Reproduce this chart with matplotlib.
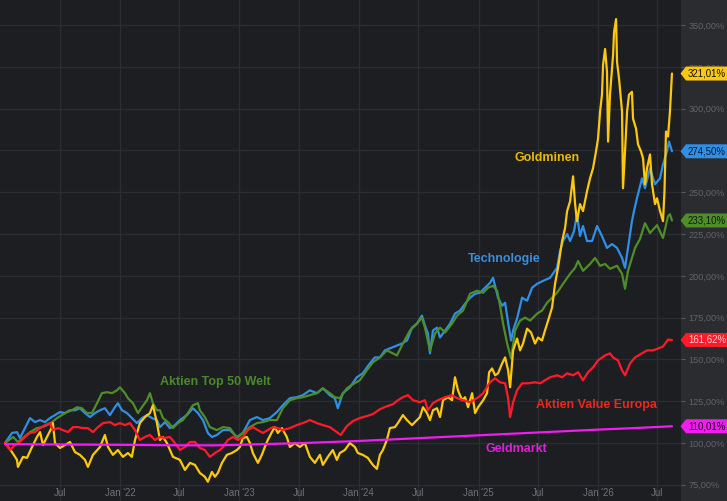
import numpy as np
import matplotlib
matplotlib.use("Agg")
import matplotlib.pyplot as plt
import matplotlib.dates as mdates
import matplotlib.ticker as mticker
from matplotlib.patches import Polygon
from matplotlib.transforms import IdentityTransform
from datetime import datetime

plt.rcParams['font.family'] = ['Liberation Sans', 'DejaVu Sans']

# ---------------- data (time in decimal years, value in % of start) ----------------
gold_t = [2021.038, 2021.096, 2021.138, 2021.146, 2021.188, 2021.222, 2021.264, 2021.305, 2021.331, 2021.356,
          2021.389, 2021.431, 2021.439, 2021.456, 2021.498, 2021.540, 2021.582, 2021.623, 2021.665, 2021.707,
          2021.732, 2021.774, 2021.833, 2021.874, 2021.900, 2021.941, 2021.983, 2022.025, 2022.067, 2022.100,
          2022.126, 2022.167, 2022.209, 2022.251, 2022.276, 2022.310, 2022.335, 2022.360, 2022.393, 2022.444,
          2022.502, 2022.544, 2022.586, 2022.628, 2022.669, 2022.711, 2022.736, 2022.770, 2022.795, 2022.820,
          2022.854, 2022.895, 2022.937, 2022.979, 2023.004, 2023.029, 2023.063, 2023.088, 2023.113, 2023.155,
          2023.188, 2023.213, 2023.238, 2023.272, 2023.297, 2023.322, 2023.356, 2023.397, 2023.423, 2023.464,
          2023.506, 2023.548, 2023.590, 2023.632, 2023.674, 2023.699, 2023.741, 2023.782, 2023.816, 2023.841,
          2023.883, 2023.925, 2023.967, 2023.992, 2024.033, 2024.075, 2024.117, 2024.151, 2024.176, 2024.201,
          2024.234, 2024.259, 2024.301, 2024.326, 2024.368, 2024.402, 2024.444, 2024.485, 2024.510, 2024.536,
          2024.569, 2024.594, 2024.619, 2024.653, 2024.678, 2024.703, 2024.745, 2024.778, 2024.803, 2024.828,
          2024.862, 2024.887, 2024.912, 2024.946, 2024.971, 2024.996, 2025.038, 2025.071, 2025.088, 2025.113,
          2025.138, 2025.163, 2025.197, 2025.222, 2025.247, 2025.264, 2025.289, 2025.322, 2025.347, 2025.372,
          2025.406, 2025.439, 2025.473, 2025.498, 2025.531, 2025.556, 2025.582, 2025.615, 2025.640, 2025.665,
          2025.699, 2025.724, 2025.741, 2025.766, 2025.791, 2025.808, 2025.824, 2025.849, 2025.874, 2025.908,
          2025.933, 2025.958, 2025.983, 2026.000, 2026.017, 2026.033, 2026.042, 2026.059, 2026.075, 2026.084,
          2026.100, 2026.126, 2026.134, 2026.151, 2026.159, 2026.176, 2026.201, 2026.209, 2026.226, 2026.243,
          2026.259, 2026.284, 2026.293, 2026.318, 2026.335, 2026.360, 2026.377, 2026.393, 2026.410, 2026.435,
          2026.452, 2026.477, 2026.494, 2026.519, 2026.544, 2026.556, 2026.569, 2026.586, 2026.602, 2026.619]
gold_v = [100.0, 94.6, 89.9, 85.7, 91.7, 91.1, 97.6, 103.6, 106.5, 98.8,
          103.6, 109.5, 111.9, 100.0, 97.0, 98.8, 100.6, 94.6, 92.9, 89.9,
          85.7, 92.9, 97.6, 104.8, 97.6, 92.9, 95.8, 91.7, 94.0, 91.7,
          101.8, 111.9, 115.5, 117.9, 122.6, 111.9, 101.8, 103.6, 100.0, 91.7,
          89.9, 83.9, 88.1, 86.9, 82.1, 79.8, 76.8, 82.7, 79.8, 82.1,
          88.1, 92.9, 94.0, 95.8, 97.6, 103.0, 103.6, 100.0, 94.0, 88.1,
          92.9, 97.6, 101.8, 106.5, 109.5, 106.0, 108.9, 103.6, 97.6, 100.0,
          97.6, 100.0, 91.7, 88.1, 92.9, 86.9, 91.7, 95.8, 89.9, 94.0,
          95.8, 100.0, 97.6, 94.0, 92.9, 91.1, 86.9, 84.5, 92.9, 95.8,
          101.8, 108.9, 109.5, 111.9, 116.7, 113.7, 110.7, 113.7, 115.5, 121.4,
          117.9, 113.7, 119.6, 120.8, 115.5, 125.6, 127.4, 125.6, 139.3, 131.5,
          125.6, 127.4, 121.4, 129.8, 117.9, 121.4, 125.6, 129.8, 142.3, 144.6,
          140.5, 141.7, 147.6, 151.2, 143.5, 133.3, 155.4, 162.5, 155.4, 159.5,
          168.4, 166.1, 159.5, 163.1, 161.3, 167.3, 173.2, 181.0, 195.2, 204.8,
          220.8, 228.6, 238.7, 244.6, 259.5, 242.9, 232.7, 242.9, 238.7, 250.6,
          258.3, 264.3, 274.4, 282.1, 298.2, 308.3, 326.2, 335.7, 322.0, 280.3,
          308.3, 332.1, 345.8, 353.6, 328.0, 317.8, 298.2, 252.4, 274.4, 298.2,
          308.3, 310.1, 294.0, 288.1, 278.6, 274.4, 270.2, 254.8, 264.3, 272.6,
          254.8, 242.9, 246.4, 238.7, 232.7, 250.0, 286.3, 283.3, 298.2, 321.01]

tech_t = [2021.038, 2021.096, 2021.138, 2021.163, 2021.205, 2021.247, 2021.289, 2021.331, 2021.372, 2021.414,
          2021.456, 2021.498, 2021.540, 2021.582, 2021.623, 2021.665, 2021.707, 2021.749, 2021.791, 2021.833,
          2021.874, 2021.916, 2021.958, 2021.983, 2022.017, 2022.059, 2022.100, 2022.142, 2022.184, 2022.226,
          2022.268, 2022.310, 2022.335, 2022.377, 2022.418, 2022.460, 2022.502, 2022.561, 2022.611, 2022.653,
          2022.695, 2022.736, 2022.770, 2022.812, 2022.862, 2022.921, 2022.979, 2023.029, 2023.088, 2023.146,
          2023.197, 2023.255, 2023.314, 2023.364, 2023.423, 2023.481, 2023.531, 2023.590, 2023.649, 2023.699,
          2023.757, 2023.799, 2023.824, 2023.866, 2023.925, 2023.983, 2024.033, 2024.092, 2024.134, 2024.176,
          2024.218, 2024.276, 2024.318, 2024.360, 2024.402, 2024.444, 2024.485, 2024.527, 2024.552, 2024.577,
          2024.594, 2024.619, 2024.653, 2024.678, 2024.720, 2024.762, 2024.803, 2024.845, 2024.887, 2024.929,
          2024.971, 2025.013, 2025.054, 2025.096, 2025.121, 2025.138, 2025.163, 2025.197, 2025.222, 2025.247,
          2025.272, 2025.289, 2025.322, 2025.364, 2025.406, 2025.448, 2025.490, 2025.540, 2025.598, 2025.657,
          2025.682, 2025.707, 2025.741, 2025.766, 2025.799, 2025.824, 2025.849, 2025.874, 2025.908, 2025.950,
          2025.992, 2026.033, 2026.075, 2026.117, 2026.159, 2026.201, 2026.226, 2026.251, 2026.284, 2026.301,
          2026.326, 2026.368, 2026.393, 2026.435, 2026.477, 2026.519, 2026.544, 2026.577, 2026.594, 2026.619]
tech_v = [100.0, 106.0, 106.5, 103.0, 108.9, 114.9, 112.5, 113.7, 112.5, 114.9,
          116.7, 118.5, 117.9, 119.6, 119.6, 120.8, 117.9, 115.5, 117.9, 119.6,
          120.8, 116.7, 121.4, 123.8, 119.6, 117.9, 114.9, 111.9, 114.9, 116.7,
          114.9, 113.7, 109.5, 112.5, 108.9, 110.7, 113.7, 116.7, 120.8, 117.9,
          113.7, 106.0, 103.6, 104.8, 107.7, 107.7, 103.6, 106.0, 113.7, 115.5,
          113.7, 114.9, 118.5, 122.6, 126.8, 127.4, 128.6, 131.5, 129.8, 132.7,
          128.6, 126.8, 120.8, 129.8, 133.3, 139.3, 141.7, 147.6, 151.2, 151.2,
          155.4, 157.1, 158.3, 159.5, 161.3, 169.0, 171.4, 176.2, 170.2, 165.5,
          153.6, 167.3, 169.0, 163.1, 167.3, 171.4, 177.4, 179.2, 183.3, 186.9,
          189.3, 189.9, 192.9, 195.8, 198.8, 194.0, 186.9, 182.1, 183.9, 172.0,
          161.3, 167.3, 174.4, 186.9, 185.1, 192.9, 195.2, 197.0, 198.8, 204.8,
          214.9, 220.8, 225.0, 220.8, 226.8, 236.9, 223.8, 229.8, 220.8, 220.8,
          229.8, 223.8, 216.7, 219.0, 216.7, 210.7, 204.8, 216.7, 232.7, 238.7,
          246.4, 258.3, 252.4, 264.3, 254.8, 258.3, 266.7, 274.4, 280.3, 274.50]

welt_t = [2021.038, 2021.105, 2021.146, 2021.188, 2021.247, 2021.305, 2021.347, 2021.389, 2021.431, 2021.473,
          2021.515, 2021.556, 2021.598, 2021.640, 2021.682, 2021.724, 2021.766, 2021.808, 2021.849, 2021.891,
          2021.933, 2021.975, 2022.000, 2022.042, 2022.067, 2022.109, 2022.151, 2022.184, 2022.226, 2022.251,
          2022.276, 2022.310, 2022.335, 2022.360, 2022.402, 2022.444, 2022.485, 2022.527, 2022.569, 2022.611,
          2022.653, 2022.669, 2022.711, 2022.753, 2022.812, 2022.862, 2022.921, 2022.979, 2023.029, 2023.088,
          2023.146, 2023.197, 2023.255, 2023.314, 2023.364, 2023.423, 2023.481, 2023.531, 2023.590, 2023.649,
          2023.699, 2023.757, 2023.799, 2023.841, 2023.900, 2023.950, 2024.008, 2024.067, 2024.117, 2024.176,
          2024.234, 2024.285, 2024.318, 2024.368, 2024.427, 2024.485, 2024.527, 2024.552, 2024.594, 2024.636,
          2024.678, 2024.720, 2024.778, 2024.820, 2024.870, 2024.929, 2024.987, 2025.038, 2025.079, 2025.121,
          2025.155, 2025.180, 2025.205, 2025.239, 2025.272, 2025.306, 2025.347, 2025.389, 2025.431, 2025.490,
          2025.531, 2025.573, 2025.615, 2025.657, 2025.707, 2025.766, 2025.808, 2025.833, 2025.874, 2025.933,
          2025.975, 2026.017, 2026.059, 2026.100, 2026.159, 2026.201, 2026.226, 2026.251, 2026.284, 2026.310,
          2026.351, 2026.393, 2026.435, 2026.494, 2026.544, 2026.586, 2026.602, 2026.619]
welt_v = [100.0, 103.6, 100.6, 103.0, 106.5, 108.9, 109.5, 110.7, 112.5, 114.9,
          116.7, 118.5, 119.6, 121.4, 120.8, 117.9, 117.9, 123.8, 129.8, 130.4,
          129.8, 131.5, 133.3, 129.8, 126.8, 123.8, 117.9, 121.4, 125.6, 129.8,
          123.8, 119.6, 119.6, 114.9, 112.5, 108.9, 111.9, 113.7, 117.9, 122.6,
          123.8, 119.6, 115.5, 109.5, 107.7, 109.5, 108.9, 103.0, 106.0, 109.5,
          111.9, 112.5, 113.7, 113.7, 120.8, 125.6, 126.8, 127.4, 128.6, 129.8,
          132.7, 129.8, 127.4, 126.8, 132.7, 135.1, 137.5, 143.5, 148.2, 151.2,
          155.4, 153.6, 152.4, 159.5, 167.3, 171.4, 175.0, 169.0, 155.4, 165.5,
          169.0, 166.1, 171.4, 176.2, 179.2, 189.3, 191.1, 189.9, 192.9, 194.0,
          191.1, 182.1, 171.4, 159.5, 150.6, 167.3, 173.2, 175.0, 173.2, 177.4,
          179.2, 183.9, 186.9, 189.9, 195.2, 201.2, 204.8, 208.9, 203.0, 207.1,
          210.7, 206.0, 207.1, 204.2, 206.0, 201.2, 192.3, 203.0, 210.7, 216.7,
          222.0, 231.5, 225.6, 230.3, 222.6, 235.7, 236.9, 233.10]

europa_t = [2021.038, 2021.079, 2021.121, 2021.163, 2021.205, 2021.247, 2021.289, 2021.331, 2021.372, 2021.414,
            2021.439, 2021.481, 2021.523, 2021.565, 2021.607, 2021.649, 2021.690, 2021.732, 2021.774, 2021.816,
            2021.858, 2021.916, 2021.958, 2022.000, 2022.042, 2022.084, 2022.126, 2022.167, 2022.209, 2022.251,
            2022.293, 2022.335, 2022.377, 2022.418, 2022.460, 2022.502, 2022.544, 2022.586, 2022.628, 2022.669,
            2022.711, 2022.753, 2022.795, 2022.837, 2022.862, 2022.904, 2022.946, 2022.987, 2023.029, 2023.071,
            2023.113, 2023.155, 2023.197, 2023.238, 2023.280, 2023.322, 2023.364, 2023.423, 2023.481, 2023.531,
            2023.590, 2023.649, 2023.699, 2023.757, 2023.816, 2023.849, 2023.900, 2023.950, 2024.008, 2024.067,
            2024.117, 2024.176, 2024.234, 2024.285, 2024.326, 2024.368, 2024.410, 2024.452, 2024.510, 2024.552,
            2024.577, 2024.619, 2024.661, 2024.720, 2024.778, 2024.820, 2024.870, 2024.929, 2024.987, 2025.038,
            2025.096, 2025.138, 2025.180, 2025.222, 2025.247, 2025.264, 2025.289, 2025.322, 2025.364, 2025.414,
            2025.473, 2025.515, 2025.556, 2025.598, 2025.657, 2025.699, 2025.741, 2025.791, 2025.833, 2025.874,
            2025.916, 2025.958, 2026.000, 2026.059, 2026.100, 2026.126, 2026.167, 2026.201, 2026.226, 2026.268,
            2026.310, 2026.368, 2026.410, 2026.460, 2026.502, 2026.544, 2026.586, 2026.619]
europa_v = [100.0, 95.8, 98.8, 100.6, 103.6, 106.0, 106.5, 108.9, 110.7, 111.9,
            107.7, 108.9, 107.7, 106.5, 109.5, 109.5, 108.9, 108.9, 106.5, 109.5,
            111.9, 112.5, 110.7, 111.9, 110.7, 111.9, 107.7, 101.8, 103.6, 104.8,
            101.8, 103.6, 103.0, 103.6, 100.0, 95.8, 97.6, 100.6, 100.6, 97.0,
            95.8, 91.7, 94.0, 95.8, 97.6, 101.8, 103.6, 101.8, 103.6, 107.7,
            109.5, 107.7, 106.0, 107.7, 109.5, 108.9, 107.7, 108.9, 110.7, 111.9,
            113.7, 111.9, 110.7, 109.5, 106.5, 104.8, 110.1, 113.1, 114.9, 116.1,
            117.3, 120.2, 122.0, 123.2, 125.6, 127.4, 128.6, 125.6, 124.4, 125.6,
            119.6, 123.8, 125.6, 127.4, 128.6, 126.8, 125.6, 124.4, 126.8, 129.8,
            136.3, 138.7, 136.3, 135.7, 126.8, 115.5, 124.4, 131.5, 135.7, 135.7,
            136.3, 135.7, 137.5, 139.3, 140.5, 139.3, 141.7, 140.5, 142.3, 137.5,
            142.3, 145.2, 149.4, 152.4, 153.6, 151.2, 149.4, 143.5, 140.5, 147.6,
            151.2, 153.6, 155.4, 155.4, 156.5, 157.7, 161.9, 161.62]

geld_t = [2021.038, 2021.5, 2022.0, 2022.5, 2022.8, 2023.0, 2023.5, 2024.0, 2024.5, 2025.0,
          2025.5, 2026.0, 2026.3, 2026.619]
geld_v = [99.3, 99.1, 98.9, 98.6, 98.6, 98.9, 99.9, 101.2, 102.9, 104.6,
          106.3, 108.0, 108.9, 110.01]

series_names = ["Technologie", "Aktien Top 50 Welt", "Goldminen", "Aktien Value Europa", "Geldmarkt"]
series_colors = ["#2f8fe6", "#4f8d29", "#fcc80f", "#ff1a2a", "#f01cf0"]
label_colors = ["#3a8fda", "#4a8a2a", "#e8b90a", "#e8281e", "#e020d8"]
box_text_colors = ["#0c1a2c", "#0d1a08", "#111111", "#ffd0d0", "#1a001a"]
yticks = [75, 100, 125, 150, 175, 200, 225, 250, 275, 300, 325, 350]

series_t = [tech_t, welt_t, gold_t, europa_t, geld_t]
series_v = [tech_v, welt_v, gold_v, europa_v, geld_v]


def to_dt(t):
    y = int(np.floor(t))
    a = datetime(y, 1, 1)
    b = datetime(y + 1, 1, 1)
    return a + (b - a) * (t - y)


W, H = 727, 501
fig = plt.figure(figsize=(W / 100, H / 100), dpi=100, facecolor="#2a2c30")
ax = fig.add_axes([0, 0, 681 / W, 1])
ax.set_facecolor("#1c1e22")
for s in ax.spines.values():
    s.set_visible(False)

for t, v, c, z in zip(series_t, series_v, series_colors, [3, 4, 5, 6, 7]):
    ax.plot([to_dt(x) for x in t], v, color=c, lw=1.6, zorder=z,
            solid_joinstyle="round", solid_capstyle="round")

ax.set_xlim(to_dt(2020.9958), to_dt(2026.6946))
ax.set_ylim(65.3, 365.0)

# y axis on the right, in grey panel
ax.yaxis.tick_right()
ax.set_yticks(yticks)
ax.yaxis.set_major_formatter(mticker.FuncFormatter(lambda v, p: f"{v:.2f}".replace(".", ",") + "%"))
ax.tick_params(axis="y", length=3, width=0.8, color="#55585e", pad=2.5,
               labelsize=6.6, labelcolor="#5f636a")

# x axis ticks
xt = [datetime(y, m, 1) for y in range(2021, 2027) for m in (1, 7) if not (y == 2021 and m == 1)]
ax.set_xticks(xt)
ax.set_xticklabels(["Jul" if d.month == 7 else "Jan '%02d" % (d.year % 100) for d in xt])
ax.tick_params(axis="x", length=0, pad=-9, labelsize=6.9, labelcolor="#6f737a")

ax.grid(True, color="#2b2d33", lw=1.0)
ax.set_axisbelow(True)

# end-value tags
for v, c, tc in zip(series_v, series_colors, box_text_colors):
    last = v[-1]
    yd = ax.transData.transform((0, last))[1]
    hh = 7
    pts = [(680.5, yd), (686, yd + hh), (730, yd + hh), (730, yd - hh), (686, yd - hh)]
    fig.add_artist(Polygon(pts, closed=True, transform=IdentityTransform(), facecolor=c,
                           edgecolor="none", zorder=10, clip_on=False))
    fig.text(688, yd, f"{last:.2f}".replace(".", ",") + "%", transform=IdentityTransform(),
             ha="left", va="center", fontsize=6.9, color=tc, zorder=11)

# series labels (pixel positions of label centres)
label_pos = [(504, 259), (215, 382), (547, 158), (596, 405), (516, 449)]
for name, (px, py), lc in zip(series_names, label_pos, label_colors):
    fig.text(px, H - py, name, transform=IdentityTransform(), ha="center", va="center",
             fontsize=9, fontweight="bold", color=lc, zorder=12)

fig.savefig("out.png", dpi=100, facecolor=fig.get_facecolor())
